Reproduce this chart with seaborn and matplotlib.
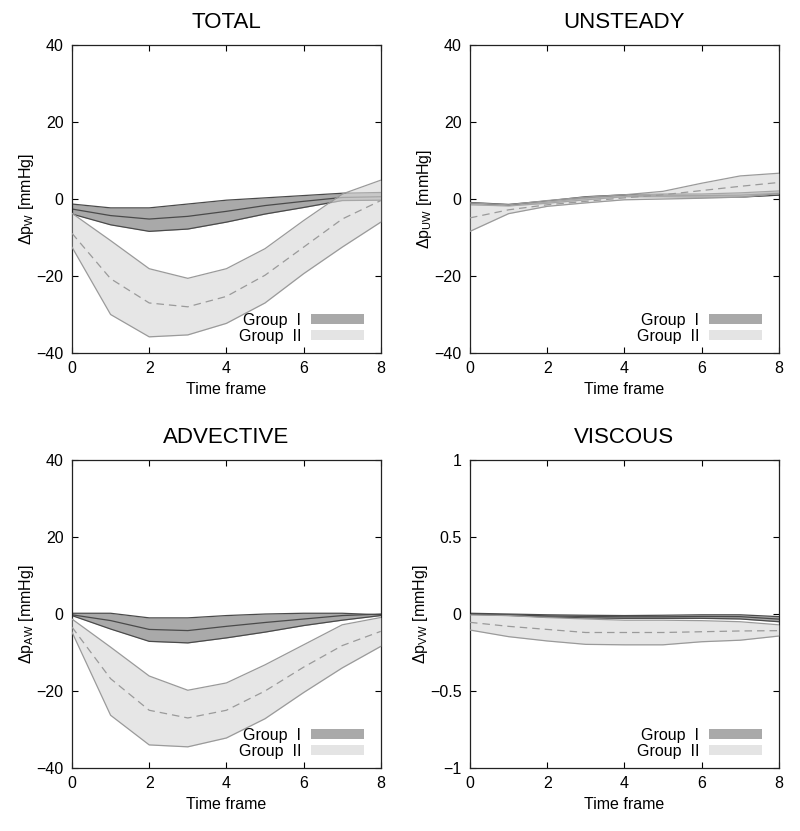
import matplotlib
matplotlib.use("Agg")
import matplotlib.pyplot as plt
from matplotlib.patches import Patch
import seaborn as sns
import pandas as pd

frames = [0, 1, 2, 3, 4, 5, 6, 7, 8]

# TOTAL
tot_g1_mean = [-2.6, -4.3, -5.2, -4.5, -3.2, -1.7, -0.6, 0.4, 0.6]
tot_g1_up = [-1.3, -2.3, -2.3, -1.3, -0.3, 0.3, 0.9, 1.5, 1.7]
tot_g1_lo = [-3.9, -6.7, -8.4, -7.8, -6.0, -3.9, -2.2, -0.4, -0.3]
tot_g2_mean = [-8.9, -20.7, -27.0, -28.0, -25.3, -19.8, -12.5, -5.2, -0.4]
tot_g2_up = [-3.7, -10.8, -18.1, -20.6, -18.1, -12.9, -5.6, 1.3, 4.9]
tot_g2_lo = [-12.5, -30.0, -35.8, -35.3, -32.3, -27.0, -19.4, -12.5, -6.0]

# UNSTEADY
uns_g1_mean = [-1.2, -1.6, -0.8, 0.2, 0.9, 1.0, 0.9, 1.0, 1.5]
uns_g1_up = [-0.9, -1.4, -0.5, 0.6, 1.1, 1.3, 1.3, 1.6, 2.1]
uns_g1_lo = [-1.5, -1.8, -1.1, -0.2, 0.6, 0.6, 0.5, 0.5, 1.0]
uns_g2_mean = [-4.9, -2.8, -1.5, -0.6, 0.3, 1.1, 2.2, 3.3, 4.3]
uns_g2_up = [-1.0, -1.5, -0.4, 0.5, 1.1, 2.0, 4.1, 6.0, 6.7]
uns_g2_lo = [-8.4, -3.8, -1.9, -1.0, -0.2, 0.0, 0.2, 0.5, 1.4]

# ADVECTIVE
adv_g1_mean = [-0.2, -1.7, -4.0, -4.3, -3.2, -2.2, -1.3, -0.4, 0.0]
adv_g1_up = [0.2, 0.2, -1.0, -1.0, -0.4, 0.0, 0.2, 0.2, -0.2]
adv_g1_lo = [-0.4, -3.9, -7.1, -7.5, -6.2, -4.7, -3.0, -1.6, -0.4]
adv_g2_mean = [-3.4, -16.8, -25.0, -27.0, -25.0, -20.0, -13.8, -8.2, -4.5]
adv_g2_up = [-1.3, -8.6, -16.1, -19.8, -17.9, -13.2, -8.0, -2.8, -0.9]
adv_g2_lo = [-4.7, -26.3, -34.0, -34.5, -32.2, -27.2, -20.4, -14.0, -8.4]

# VISCOUS
vis_g1_mean = [0.0, -0.005, -0.012, -0.016, -0.018, -0.018, -0.016, -0.017, -0.033]
vis_g1_up = [0.005, 0.0, -0.005, -0.008, -0.01, -0.008, -0.005, -0.005, -0.017]
vis_g1_lo = [-0.002, -0.01, -0.02, -0.025, -0.028, -0.028, -0.028, -0.032, -0.05]
vis_g2_mean = [-0.054, -0.08, -0.1, -0.12, -0.12, -0.12, -0.115, -0.11, -0.108]
vis_g2_up = [-0.006, -0.01, -0.023, -0.032, -0.04, -0.04, -0.043, -0.05, -0.07]
vis_g2_lo = [-0.104, -0.147, -0.175, -0.197, -0.2, -0.2, -0.18, -0.17, -0.143]

titles = ["TOTAL", "UNSTEADY", "ADVECTIVE", "VISCOUS"]
subs = ["W", "UW", "AW", "VW"]

G1_FILL, G1_LINE = "#a9a9a9", "#4a4a4a"
G2_FILL, G2_LINE = "#d9d9d9", "#9a9a9a"
G2_ALPHA = 0.65

sns.set_style("ticks")
plt.rcParams["font.family"] = ["Liberation Sans", "DejaVu Sans"]
plt.rcParams["mathtext.fontset"] = "custom"
plt.rcParams["mathtext.rm"] = "Liberation Sans"
plt.rcParams["mathtext.it"] = "Liberation Sans"
plt.rcParams["mathtext.sf"] = "Liberation Sans"
plt.rcParams["text.color"] = "black"
plt.rcParams["axes.labelcolor"] = "black"
plt.rcParams["xtick.color"] = "black"
plt.rcParams["ytick.color"] = "black"


def draw_panel(ax, g1, g2, title, sub, ylim, yticks, yticklabels):
    # Group I first, Group II semi-transparent on top
    for (mean, up, lo), fill, alpha, edge, ls, z in [(g1, G1_FILL, 1.0, G1_LINE, "-", 2),
                                                      (g2, G2_FILL, G2_ALPHA, G2_LINE, "--", 3)]:
        df = pd.DataFrame({"t": frames, "mean": mean, "up": up, "lo": lo})
        ax.fill_between(df["t"], df["lo"], df["up"], color=fill, alpha=alpha, lw=0, zorder=z)
        sns.lineplot(data=df, x="t", y="up", ax=ax, color=edge, lw=0.9, zorder=z)
        sns.lineplot(data=df, x="t", y="lo", ax=ax, color=edge, lw=0.9, zorder=z)
        mline = sns.lineplot(data=df, x="t", y="mean", ax=ax, color=edge, lw=0.9,
                             zorder=z).lines[-1]
        if ls == "--":
            mline.set_dashes((6, 4))
    ax.set_xlim(0, 8)
    ax.set_ylim(*ylim)
    ax.set_xticks([0, 2, 4, 6, 8])
    ax.set_yticks(yticks)
    ax.set_yticklabels(yticklabels)
    ax.tick_params(direction="in", top=True, right=True, length=4, width=0.8,
                   labelsize=11.5, pad=6)
    for sp in ax.spines.values():
        sp.set_linewidth(0.9)
        sp.set_color("#222222")
    ax.set_title(title, fontsize=16, pad=12)
    ax.set_xlabel("Time frame", fontsize=11.5, labelpad=4)
    ax.set_ylabel(r"$\Delta\mathrm{p}_{\mathrm{%s}}$ [mmHg]" % sub, fontsize=11.5,
                  labelpad=0)
    handles = [Patch(facecolor=G1_FILL, edgecolor="none"),
               Patch(facecolor="#e4e4e4", edgecolor="none")]
    ax.legend(handles, ["Group  I", "Group  II"], loc="lower right", frameon=False,
              markerfirst=False, fontsize=11.5, handlelength=3.3, handleheight=0.6,
              handletextpad=0.6, labelspacing=0.05, borderaxespad=0.0,
              bbox_to_anchor=(0.965, 0.01))


fig = plt.figure(figsize=(8.0, 8.31), dpi=100)
w, h = 0.386, 0.3706
ax1 = fig.add_axes([0.09, 0.5752, w, h])
ax2 = fig.add_axes([0.5875, 0.5752, w, h])
ax3 = fig.add_axes([0.09, 0.0758, w, h])
ax4 = fig.add_axes([0.5875, 0.0758, w, h])

big_ticks = [-40, -20, 0, 20, 40]
big_labels = ["\u221240", "\u221220", "0", "20", "40"]
draw_panel(ax1, (tot_g1_mean, tot_g1_up, tot_g1_lo), (tot_g2_mean, tot_g2_up, tot_g2_lo),
           titles[0], subs[0], (-40, 40), big_ticks, big_labels)
draw_panel(ax2, (uns_g1_mean, uns_g1_up, uns_g1_lo), (uns_g2_mean, uns_g2_up, uns_g2_lo),
           titles[1], subs[1], (-40, 40), big_ticks, big_labels)
draw_panel(ax3, (adv_g1_mean, adv_g1_up, adv_g1_lo), (adv_g2_mean, adv_g2_up, adv_g2_lo),
           titles[2], subs[2], (-40, 40), big_ticks, big_labels)
draw_panel(ax4, (vis_g1_mean, vis_g1_up, vis_g1_lo), (vis_g2_mean, vis_g2_up, vis_g2_lo),
           titles[3], subs[3], (-1, 1), [-1, -0.5, 0, 0.5, 1],
           ["\u22121", "\u22120.5", "0", "0.5", "1"])

fig.savefig("out.png", dpi=100)
